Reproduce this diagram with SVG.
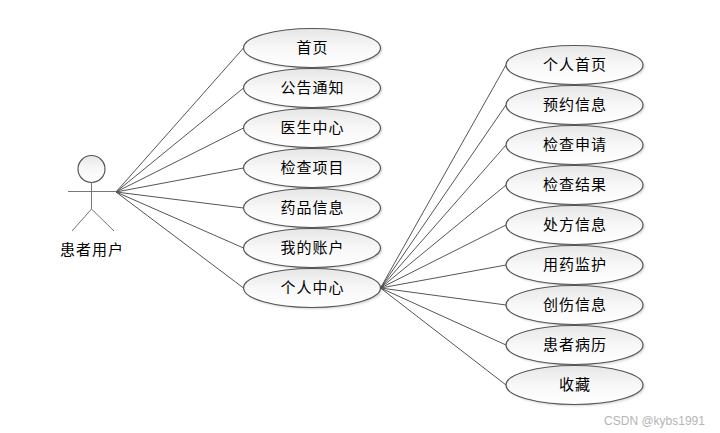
<svg xmlns="http://www.w3.org/2000/svg" width="720" height="433" viewBox="0 0 720 433">
<style>
text{font-family:"Noto Sans CJK SC","Liberation Sans",sans-serif;font-size:15px;letter-spacing:1px;fill:#000;text-anchor:middle}
.u{fill:url(#g);stroke:#555;stroke-width:1.2}
.s{fill:#000;opacity:.18;filter:url(#b)}
.c line{stroke:#555;stroke-width:1}
.a{stroke:#777;stroke-width:1;fill:none}
</style>
<defs>
<linearGradient id="g" x1="0" y1="0" x2="0" y2="1"><stop offset="0" stop-color="#e6e6e6"/><stop offset=".5" stop-color="#f8f8f8"/><stop offset="1" stop-color="#fff"/></linearGradient>
<filter id="b" x="-10%" y="-20%" width="120%" height="140%"><feGaussianBlur stdDeviation="1"/></filter>
<g id="uc"><ellipse class="s" cx="1.5" cy="1.5" rx="68.5" ry="19.5"/><ellipse class="u" rx="68.5" ry="19.5"/></g>
</defs>
<rect width="720" height="433" fill="#fff"/>
<g id="connectors" class="c">
<line x1="116" y1="192" x2="243.500" y2="48"/>
<line x1="116" y1="192" x2="243.500" y2="88"/>
<line x1="116" y1="192" x2="243.500" y2="128"/>
<line x1="116" y1="192" x2="243.500" y2="168"/>
<line x1="116" y1="192" x2="243.500" y2="208"/>
<line x1="116" y1="192" x2="243.500" y2="248"/>
<line x1="116" y1="192" x2="243.500" y2="288"/>
<line x1="380.500" y1="288" x2="506" y2="65"/>
<line x1="380.500" y1="288" x2="506" y2="105"/>
<line x1="380.500" y1="288" x2="506" y2="145"/>
<line x1="380.500" y1="288" x2="506" y2="185"/>
<line x1="380.500" y1="288" x2="506" y2="225"/>
<line x1="380.500" y1="288" x2="506" y2="265"/>
<line x1="380.500" y1="288" x2="506" y2="305"/>
<line x1="380.500" y1="288" x2="506" y2="345"/>
<line x1="380.500" y1="288" x2="506" y2="385"/>
</g>
<g id="actor">
<circle cx="91.500" cy="169" r="13.500" fill="url(#g)" stroke="#555" stroke-width="1.200"/>
<path class="a" d="M68 191.500H116M91.500 182.500V209M91.500 209L72 231M91.500 209L114 231"/>
<text x="92" y="255">患者用户</text>
</g>
<g id="n1"><use href="#uc" x="312" y="48"/><text x="312.500" y="53">首页</text></g>
<g id="n2"><use href="#uc" x="312" y="88"/><text x="312.500" y="93">公告通知</text></g>
<g id="n3"><use href="#uc" x="312" y="128"/><text x="312.500" y="133">医生中心</text></g>
<g id="n4"><use href="#uc" x="312" y="168"/><text x="312.500" y="173">检查项目</text></g>
<g id="n5"><use href="#uc" x="312" y="208"/><text x="312.500" y="213">药品信息</text></g>
<g id="n6"><use href="#uc" x="312" y="248"/><text x="312.500" y="253">我的账户</text></g>
<g id="n7"><use href="#uc" x="312" y="288"/><text x="312.500" y="293">个人中心</text></g>
<g id="m1"><use href="#uc" x="574.500" y="65"/><text x="575" y="70">个人首页</text></g>
<g id="m2"><use href="#uc" x="574.500" y="105"/><text x="575" y="110">预约信息</text></g>
<g id="m3"><use href="#uc" x="574.500" y="145"/><text x="575" y="150">检查申请</text></g>
<g id="m4"><use href="#uc" x="574.500" y="185"/><text x="575" y="190">检查结果</text></g>
<g id="m5"><use href="#uc" x="574.500" y="225"/><text x="575" y="230">处方信息</text></g>
<g id="m6"><use href="#uc" x="574.500" y="265"/><text x="575" y="270">用药监护</text></g>
<g id="m7"><use href="#uc" x="574.500" y="305"/><text x="575" y="310">创伤信息</text></g>
<g id="m8"><use href="#uc" x="574.500" y="345"/><text x="575" y="350">患者病历</text></g>
<g id="m9"><use href="#uc" x="574.500" y="385"/><text x="575" y="390">收藏</text></g>
<text x="654.500" y="425" style="font-family:'Liberation Sans',sans-serif;font-size:12px;letter-spacing:0;fill:#b5b5b5">CSDN @kybs1991</text>
</svg>
